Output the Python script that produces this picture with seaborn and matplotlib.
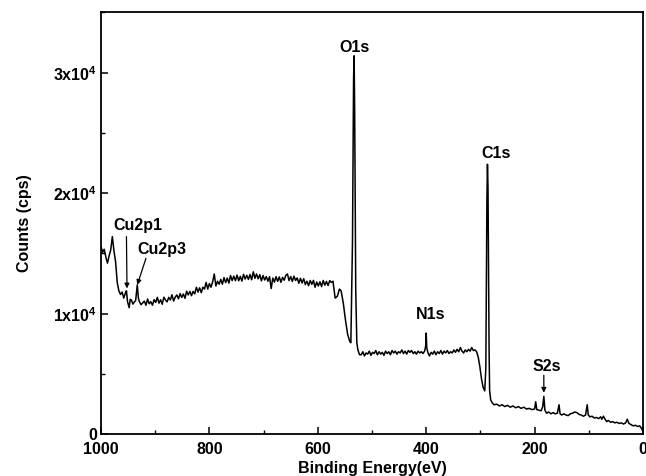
import matplotlib
matplotlib.use("Agg")
import matplotlib.pyplot as plt
import seaborn as sns
import pandas as pd
from matplotlib.ticker import MultipleLocator, FixedLocator

# ---- data (binding energy in eV, counts in cps) ----
energy = [
    # Cu 2p region
    1000, 997, 994, 991, 988, 985, 982, 979, 976, 973, 970, 967, 964, 961, 958,
    955, 953, 951, 948, 946, 944, 941, 939, 936, 933, 931, 929, 926,
    # broad background hump
    920, 917, 914, 911, 908, 905, 902, 899, 896, 893, 890, 887, 884, 881, 878,
    875, 872, 869, 866, 863, 860, 857, 854, 851, 848, 845, 842, 839, 836, 833,
    830, 827, 824, 821, 818, 815, 812, 809, 806, 803, 800, 797, 794, 791, 788,
    785, 782, 779, 776, 773, 770, 767, 764, 761, 758, 755, 752, 749, 746, 743,
    740, 737, 734, 731, 728, 725, 722, 719, 716, 713, 710, 707, 704, 701, 698,
    695, 692, 689, 686, 683, 680, 677, 674, 671, 668, 665, 662, 659, 656, 653,
    650, 647, 644, 641, 638, 635, 632, 629, 626, 623, 620, 617, 614, 611, 608,
    605, 602, 599, 596, 593, 590, 587, 584, 581, 578, 575, 572,
    # O 1s
    568, 564, 560, 557, 553, 549, 545, 541, 539, 536, 534, 533, 532, 530, 528,
    526, 523,
    # plateau with N 1s
    520, 517, 514, 511, 508, 505, 502, 499, 496, 493, 490, 487, 484, 481, 478,
    475, 472, 469, 466, 463, 460, 457, 454, 451, 448, 445, 442, 439, 436, 433,
    430, 427, 424, 421, 418, 415, 412, 409, 406, 403, 401, 400, 399, 397, 394,
    391, 388, 385, 382, 379, 376, 373, 370, 367, 364, 361, 358, 355, 352, 349,
    346, 343, 340, 337, 334, 331, 328, 325, 322, 319, 316, 313, 310, 307, 304,
    301, 298, 295, 292,
    # C 1s
    290, 289, 288, 287, 286, 285, 284, 283, 281, 278, 275,
    # low-energy tail with S 2s
    270, 265, 260, 255, 250, 245, 240, 235, 230, 225, 220, 215, 210, 205, 200,
    198, 196, 192, 188, 185, 183, 181, 178, 174, 170, 166, 162, 158, 155, 153,
    150, 146, 142, 138, 134, 130, 126, 122, 118, 114, 110, 106, 103, 101, 98,
    94, 90, 86, 82, 78, 76, 73, 70, 67, 64, 60, 56, 52, 48, 44, 40, 36, 32,
    29, 26, 22, 18, 14, 10, 6, 3, 0,
]
counts = [
    15600, 15100, 15350, 14700, 14200, 14800, 15300, 16400, 15200, 14300, 12600,
    11900, 11600, 11800, 11300, 11700, 11900, 11000, 10500, 11200, 11150, 10800,
    10950, 11100, 12400, 11300, 11000, 10750,
    11050, 10710, 11220, 10830, 11000, 10710, 11170, 10940, 11360, 10880, 11160,
    10790, 11370, 11150, 10980, 11360, 11140, 11570, 11050, 11380, 11560, 11240,
    11670, 11350, 11640, 11280, 11870, 11560, 11850, 11500, 11850, 11650, 12200,
    11800, 12150, 11750, 12200, 12050, 12600, 12050, 12500, 12200, 12650, 13300,
    12300, 12700, 12450, 12850, 12450, 13000, 12580, 12960, 12540, 13170, 12750,
    13120, 12740, 13210, 12730, 13100, 12710, 13270, 12880, 13190, 12850, 13260,
    12820, 13480, 12940, 13300, 12900, 13240, 12730, 13170, 12800, 13080, 12700,
    13070, 12090, 12960, 12630, 13080, 12690, 13050, 12610, 13020, 12780, 13190,
    13300, 12750, 13090, 12680, 13120, 12760, 12970, 12530, 12940, 12550, 12910,
    12420, 12700, 12330, 12760, 12440, 12770, 12200, 12630, 12310, 12650, 12250,
    12760, 12370, 12680, 12340, 12750, 12600, 12700,
    11300, 11450, 12050, 11900, 10900, 9500, 8300, 7700, 7600, 16000, 29500,
    31400, 27000, 12000, 7600, 7000, 6600,
    6600, 6850, 6500, 6750, 6650, 6900, 6550, 6800, 6700, 6950, 6600, 6850, 6650,
    6800, 6550, 6900, 6700, 6850, 6600, 6950, 6750, 6900, 6650, 6850, 6750, 7000,
    6700, 6900, 6650, 6950, 6800, 6950, 6700, 6850, 6650, 6900, 6750, 6850, 6700,
    6900, 7300, 8400, 7200, 6800, 6500, 6800, 6650, 6900, 6600, 6850, 6700, 6950,
    6650, 6900, 6750, 6950, 6700, 6850, 6750, 7000, 6800, 7050, 6850, 7200, 6900,
    6750, 7000, 6850, 7050, 6900, 7200, 6950, 7000, 6850, 6400, 5600, 4600, 3900,
    3600,
    5500, 12000, 19500, 22400, 20500, 14000, 7000, 3600, 2850, 2600, 2450,
    2500, 2350, 2450, 2300, 2400, 2250, 2350, 2200, 2300, 2150, 2250, 2100, 2150,
    2050, 2100, 2700, 2050, 2000, 1950, 2300, 3150, 2000, 1750, 1850, 1700, 1800,
    1700, 1750, 2450, 1700, 1600, 1700, 1600, 1550, 1700, 1750, 1850, 1800, 1650,
    1600, 1500, 1600, 2450, 1600, 1450, 1500, 1350, 1400, 1300, 1450, 1250, 1500,
    1250, 1050, 1150, 1000, 1050, 950, 1000, 900, 950, 850, 950, 1250, 900, 800,
    700, 750, 650, 700, 500, 250,
]

peak_labels = ["O1s", "C1s", "N1s", "S2s", "Cu2p1", "Cu2p3"]
label_x = [533, 271, 391, 178, 932, 887]
label_y = [31500, 22700, 9300, 5000, 16700, 14700]

arrow_labels = ["Cu2p1", "Cu2p3", "S2s"]
arrow_from_x = [953, 917, 183]
arrow_from_y = [16400, 14600, 4900]
arrow_to_x = [952, 933, 183]
arrow_to_y = [12100, 12400, 3450]

x_major = [1000, 800, 600, 400, 200, 0]
y_major = [0, 10000, 20000, 30000]
y_tick_text = ["0", r"$\mathbf{1x10^{4}}$", r"$\mathbf{2x10^{4}}$", r"$\mathbf{3x10^{4}}$"]

# ---- styling ----
sns.set_theme(style="ticks")
plt.rcParams["font.family"] = ["Liberation Sans", "DejaVu Sans"]
plt.rcParams["font.weight"] = "bold"
plt.rcParams["text.color"] = "black"
plt.rcParams["axes.labelcolor"] = "black"
plt.rcParams["mathtext.fontset"] = "custom"
plt.rcParams["mathtext.bf"] = "Liberation Sans:bold"
plt.rcParams["mathtext.rm"] = "Liberation Sans:bold"
plt.rcParams["mathtext.it"] = "Liberation Sans:bold"

df = pd.DataFrame({"energy": energy, "counts": counts})

fig = plt.figure(figsize=(6.46, 4.76), dpi=100)
ax = fig.add_axes([0.1563, 0.0876, 0.9954 - 0.1563, 0.974 - 0.0876])

sns.lineplot(data=df, x="energy", y="counts", ax=ax, color="black",
             linewidth=1.1, sort=False, estimator=None)

ax.set_xlim(1000, 0)
ax.set_ylim(0, 35000)

ax.xaxis.set_major_locator(FixedLocator(x_major))
ax.xaxis.set_minor_locator(MultipleLocator(100))
ax.yaxis.set_major_locator(FixedLocator(y_major))
ax.yaxis.set_minor_locator(MultipleLocator(5000))
ax.set_yticklabels(y_tick_text)
ax.set_xticklabels([str(v) for v in x_major])

ax.tick_params(axis="both", which="major", direction="in", length=5, width=1.1,
               labelsize=11.5, color="black", labelcolor="black")
ax.tick_params(axis="x", which="major", pad=5.5)
ax.tick_params(axis="y", which="major", pad=3)
ax.tick_params(axis="both", which="minor", direction="in", length=3, width=1.0,
               color="black")
for lab in ax.get_xticklabels() + ax.get_yticklabels():
    lab.set_fontweight("bold")

for s in ax.spines.values():
    s.set_linewidth(1.3)
    s.set_color("black")

ax.set_xlabel("Binding Energy(eV)", fontsize=11.5, fontweight="bold",
              labelpad=3, color="black")
ax.set_ylabel("Counts (cps)", fontsize=11.5, fontweight="bold",
              labelpad=15, color="black")

for t, x, y in zip(peak_labels, label_x, label_y):
    ax.text(x, y, t, ha="center", va="bottom", fontsize=11.5, fontweight="bold",
            color="black")

for name, x0, y0, x1, y1 in zip(arrow_labels, arrow_from_x, arrow_from_y,
                                arrow_to_x, arrow_to_y):
    ax.annotate("", xy=(x1, y1), xytext=(x0, y0),
                arrowprops=dict(arrowstyle="-|>", color="black", lw=0.9,
                                mutation_scale=7, shrinkA=0, shrinkB=0))

fig.savefig("out.png", dpi=100)
